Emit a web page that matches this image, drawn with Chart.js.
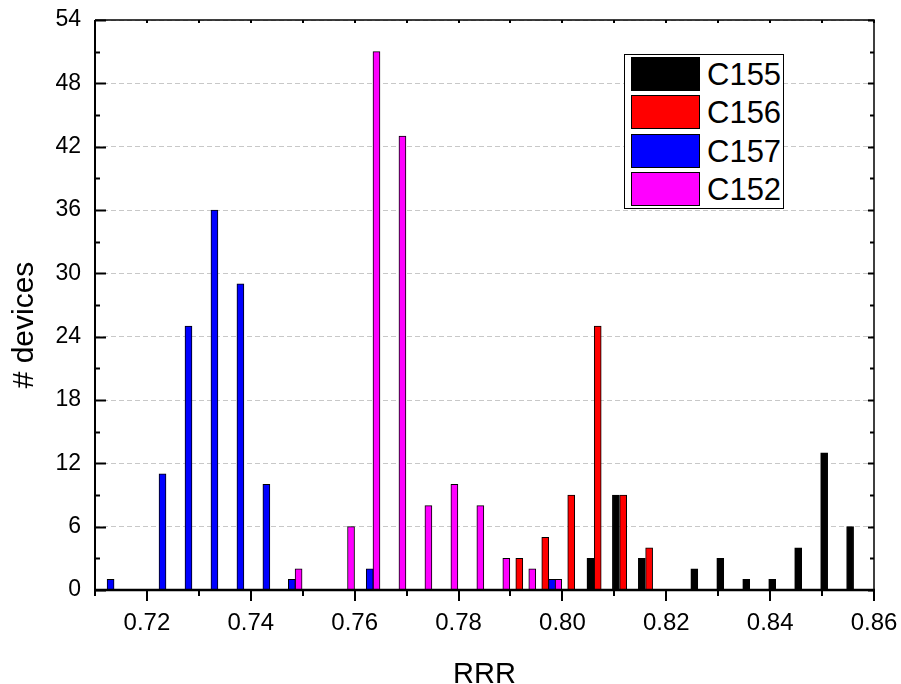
<!DOCTYPE html>
<html lang="en">
<head>
<meta charset="UTF-8">
<title>RRR - devices</title>
<script src="https://cdn.jsdelivr.net/npm/chart.js@4"></script>
<style>
    body { margin: 0; background: #fff; }
    #wrap { position: relative; width: 901px; height: 684px; }
    #legenda {
        position: absolute; left: 624px; top: 54px;
        width: 158px; height: 153px;
        border: 1px solid #000; background: #fff;
        font-family: "Liberation Sans", Arial, sans-serif; font-size: 31px;
    }
    .item { position: absolute; left: 6px; width: 150px; height: 34px; }
    .cor { position: absolute; left: 0; top: 0; width: 67px; height: 32px; border: 1px solid #000; }
    .nome { position: absolute; left: 76px; top: 1px; line-height: 34px; color: #000; }
</style>
</head>
<body>
<div id="wrap">
    <canvas id="grafico" width="901" height="684"></canvas>
    <div id="legenda"></div>
</div>
<script>
    // valores
    const series = ['C155', 'C156', 'C157', 'C152'];
    const cores = ['#000000', '#ff0000', '#0000ff', '#ff00ff'];

    const rrrC155 = [0.8054, 0.8103, 0.8153, 0.8254, 0.8304, 0.8354, 0.8404, 0.8454, 0.8504, 0.8554];
    const qtdC155 = [3, 9, 3, 2, 3, 1, 1, 4, 13, 6];
    const rrrC156 = [0.7917, 0.7967, 0.8017, 0.8068, 0.8117, 0.8167];
    const qtdC156 = [3, 5, 9, 25, 9, 4];
    const rrrC157 = [0.7130, 0.7230, 0.7280, 0.7330, 0.7380, 0.7430, 0.7479, 0.7629, 0.7980];
    const qtdC157 = [1, 11, 25, 36, 29, 10, 1, 2, 1];
    const rrrC152 = [0.7492, 0.7593, 0.7642, 0.7692, 0.7742, 0.7792, 0.7842, 0.7892, 0.7942, 0.7992];
    const qtdC152 = [2, 6, 51, 43, 8, 10, 8, 3, 2, 1];

    const ticksX = [0.72, 0.74, 0.76, 0.78, 0.80, 0.82, 0.84, 0.86];
    const ticksXMenor = [0.71, 0.73, 0.75, 0.77, 0.79, 0.81, 0.83, 0.85];
    const ticksY = [0, 6, 12, 18, 24, 30, 36, 42, 48, 54];
    const ticksYMenor = [3, 9, 15, 21, 27, 33, 39, 45, 51];

    const fonte = '"Liberation Sans", Arial, sans-serif';

    function pontos(xs, ys) {
        return xs.map((v, i) => ({ x: v, y: ys[i] }));
    }

    const dados = [
        pontos(rrrC155, qtdC155),
        pontos(rrrC156, qtdC156),
        pontos(rrrC157, qtdC157),
        pontos(rrrC152, qtdC152)
    ];

    // moldura do Origin: eixos, ticks para dentro/fora e titulos
    const moldura = {
        id: 'moldura',
        afterDraw(chart) {
            const ctx = chart.ctx;
            const a = chart.chartArea;
            const x = chart.scales.x;
            const y = chart.scales.y;
            ctx.save();
            ctx.strokeStyle = '#000';

            ctx.lineWidth = 2;
            ticksY.forEach(v => {
                const py = Math.round(y.getPixelForValue(v)) + 0.5;
                ctx.beginPath(); ctx.moveTo(a.left, py); ctx.lineTo(a.left + 11, py); ctx.stroke();
                ctx.beginPath(); ctx.moveTo(a.right, py); ctx.lineTo(a.right - 6, py); ctx.stroke();
            });
            ticksYMenor.forEach(v => {
                const py = Math.round(y.getPixelForValue(v)) + 0.5;
                ctx.beginPath(); ctx.moveTo(a.left, py); ctx.lineTo(a.left + 5, py); ctx.stroke();
                ctx.beginPath(); ctx.moveTo(a.right, py); ctx.lineTo(a.right - 4, py); ctx.stroke();
            });
            ticksX.forEach(v => {
                const px = Math.round(x.getPixelForValue(v));
                ctx.beginPath(); ctx.moveTo(px, a.bottom); ctx.lineTo(px, a.bottom + 11); ctx.stroke();
                ctx.beginPath(); ctx.moveTo(px, a.top); ctx.lineTo(px, a.top + 3); ctx.stroke();
            });
            ticksXMenor.forEach(v => {
                const px = Math.round(x.getPixelForValue(v));
                ctx.beginPath(); ctx.moveTo(px, a.bottom); ctx.lineTo(px, a.bottom + 6); ctx.stroke();
                ctx.beginPath(); ctx.moveTo(px, a.top); ctx.lineTo(px, a.top + 3); ctx.stroke();
            });

            ctx.lineWidth = 1.5;
            ctx.beginPath();
            ctx.moveTo(a.left, a.top); ctx.lineTo(a.right, a.top); ctx.lineTo(a.right, a.bottom);
            ctx.stroke();
            ctx.lineWidth = 2;
            ctx.beginPath(); ctx.moveTo(a.left, a.top); ctx.lineTo(a.left, a.bottom + 1); ctx.stroke();
            ctx.lineWidth = 2.5;
            ctx.beginPath(); ctx.moveTo(a.left - 1, a.bottom); ctx.lineTo(a.right + 1, a.bottom); ctx.stroke();

            ctx.fillStyle = '#000';
            ctx.font = '29px ' + fonte;
            ctx.textAlign = 'center';
            ctx.textBaseline = 'alphabetic';
            ctx.fillText('RRR', (a.left + a.right) / 2, 683);

            ctx.translate(33, 325);
            ctx.rotate(-Math.PI / 2);
            ctx.font = '30px ' + fonte;
            ctx.fillText('# devices', 0, 0);
            ctx.restore();
        }
    };

    const grafico = new Chart(document.getElementById('grafico'), {
        type: 'bar',
        data: {
            datasets: series.map((nome, i) => ({
                label: nome,
                data: dados[i],
                backgroundColor: cores[i],
                borderColor: '#000',
                borderWidth: 1,
                barThickness: 7,
                grouped: false
            }))
        },
        options: {
            responsive: false,
            animation: false,
            layout: { padding: { left: 0, top: 20, right: 27, bottom: 0 } },
            plugins: { legend: { display: false }, tooltip: { enabled: true } },
            scales: {
                x: {
                    type: 'linear',
                    offset: false,
                    min: 0.71,
                    max: 0.86,
                    afterBuildTicks: s => { s.ticks = ticksX.map(v => ({ value: v })); },
                    afterFit: s => {
                        s.height = 94;
                        s.paddingLeft = 0;
                        s.paddingRight = 0;
                    },
                    grid: { display: false, drawTicks: false, offset: false },
                    border: { display: false },
                    ticks: {
                        color: '#000',
                        padding: 19,
                        maxRotation: 0,
                        font: { family: fonte, size: 24 },
                        callback: v => Number(v).toFixed(2)
                    }
                },
                y: {
                    min: 0,
                    max: 54,
                    afterBuildTicks: s => { s.ticks = ticksY.map(v => ({ value: v })); },
                    afterFit: s => {
                        s.width = 95;
                        s.paddingTop = 0;
                        s.paddingBottom = 0;
                    },
                    grid: { color: '#c8c8c8', lineWidth: 1, drawTicks: false },
                    border: { display: false, dash: [5, 3] },
                    ticks: {
                        color: '#000',
                        padding: 14,
                        font: { family: fonte, size: 23 }
                    }
                }
            }
        },
        plugins: [moldura]
    });

    // legenda em html, montada a partir dos datasets
    const legenda = document.getElementById('legenda');
    grafico.data.datasets.forEach((ds, i) => {
        const item = document.createElement('div');
        item.className = 'item';
        item.style.top = (2 + i * 38.4) + 'px';
        item.innerHTML = '<div class="cor" style="background:' + ds.backgroundColor + '"></div>' +
            '<span class="nome">' + ds.label + '</span>';
        legenda.appendChild(item);
    });
</script>
</body>
</html>
